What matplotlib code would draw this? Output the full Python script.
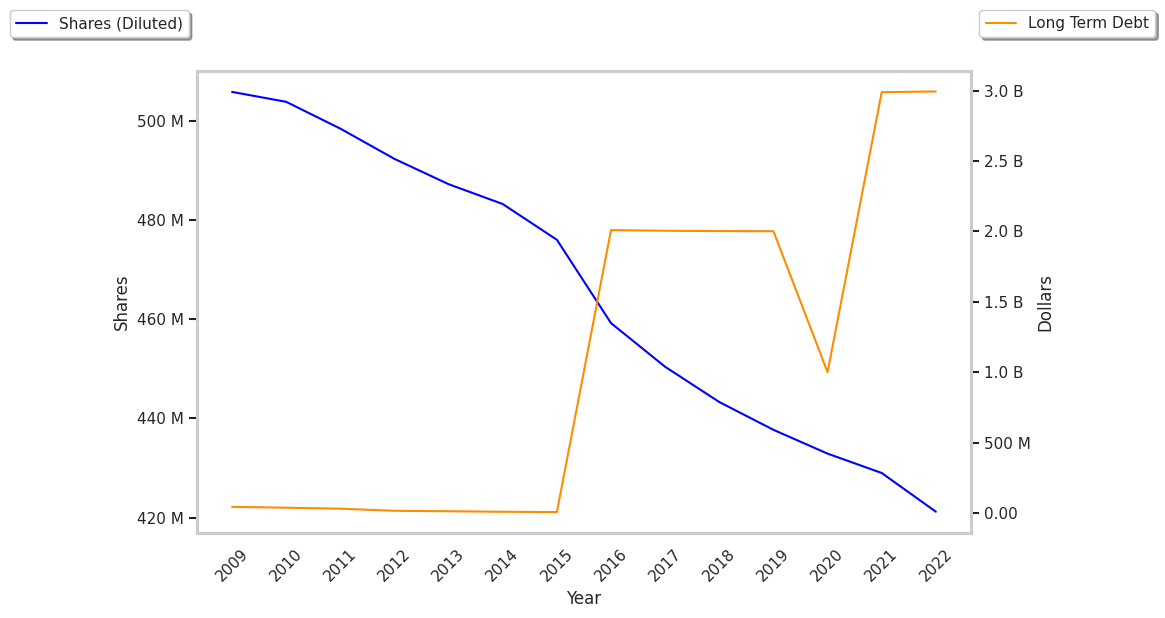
import matplotlib
matplotlib.use("Agg")
import matplotlib.pyplot as plt
import seaborn as sns
from matplotlib.ticker import FuncFormatter

years = [2009, 2010, 2011, 2012, 2013, 2014, 2015, 2016, 2017, 2018, 2019, 2020, 2021, 2022]
shares_m = [505.8, 503.8, 498.4, 492.3, 487.2, 483.2, 476.0, 459.2, 450.4, 443.3, 437.7, 432.9, 429.0, 421.2]
debt_b = [0.043, 0.037, 0.030, 0.015, 0.012, 0.008, 0.006, 2.01, 2.005, 2.003, 2.002, 1.0, 2.99, 2.995]

sns.set_theme(style="white")
plt.rcParams['font.family'] = ['DejaVu Sans']

fig, ax1 = plt.subplots(figsize=(11.65, 6.18), dpi=100)
fig.subplots_adjust(left=0.169, right=0.8335, top=0.885, bottom=0.1375)

l1, = ax1.plot(years, [v * 1e6 for v in shares_m], color="blue", label="Shares (Diluted)")
ax2 = ax1.twinx()
l2, = ax2.plot(years, [v * 1e9 for v in debt_b], color="darkorange", label="Long Term Debt")

ax1.set_xlabel("Year")
ax1.set_ylabel("Shares")
ax2.set_ylabel("Dollars")
ax1.set_xticks(years)
ax1.set_xticklabels([str(y) for y in years], rotation=45)

ax1.set_yticks([420e6, 440e6, 460e6, 480e6, 500e6])
ax1.yaxis.set_major_formatter(FuncFormatter(lambda v, p: f"{v/1e6:.0f} M"))
ax2.set_yticks([0, 0.5e9, 1.0e9, 1.5e9, 2.0e9, 2.5e9, 3.0e9])
ax2.set_yticklabels(["0.00", "500 M", "1.0 B", "1.5 B", "2.0 B", "2.5 B", "3.0 B"])

ax1.set_ylim(416.9e6, 510.0e6)
ax2.set_ylim(-0.143e9, 3.14e9)
ax1.set_xlim(2008.35, 2022.65)

for ax in (ax1, ax2):
    for s in ax.spines.values():
        s.set_color("#cccccc")
        s.set_linewidth(2.2)
ax1.tick_params(axis="y", left=True, length=6, width=1.5, color="#222222")
ax2.tick_params(axis="y", right=True, length=6, width=1.5, color="#222222")
ax1.tick_params(axis="x", bottom=False)

fig.legend(handles=[l1], loc="upper left", bbox_to_anchor=(0.002, 0.996), shadow=True, frameon=True, fancybox=True, edgecolor="#cccccc")
fig.legend(handles=[l2], loc="upper right", bbox_to_anchor=(0.9984, 0.996), shadow=True, frameon=True, fancybox=True, edgecolor="#cccccc")

fig.savefig("out.png", dpi=100)
